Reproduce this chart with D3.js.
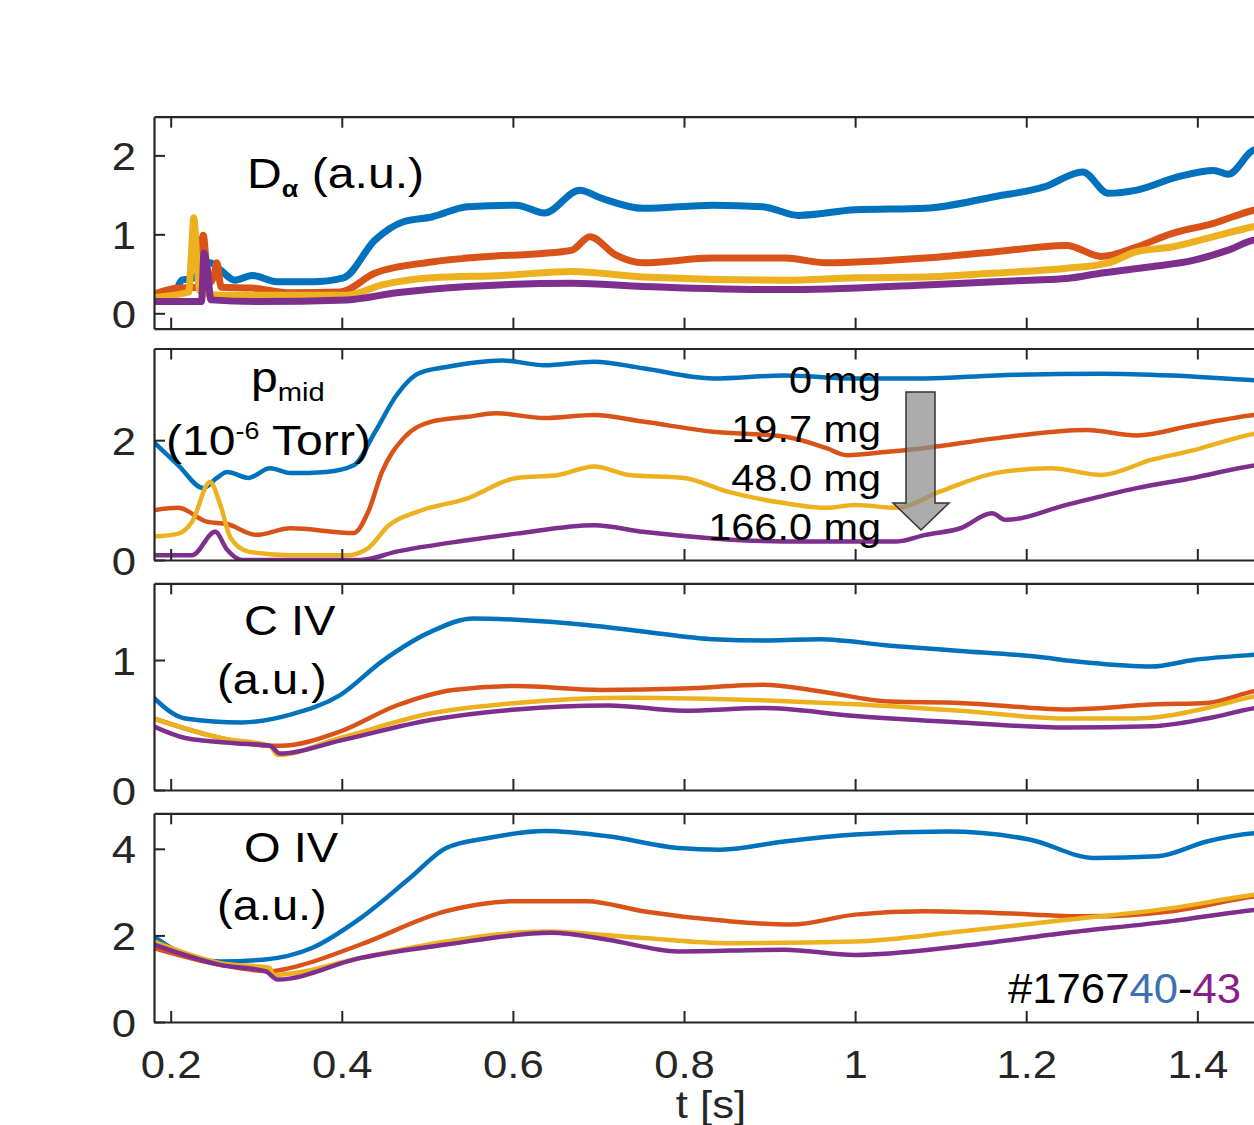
<!DOCTYPE html>
<html><head><meta charset="utf-8">
<script src="https://cdn.jsdelivr.net/npm/d3@7"></script>
<style>
html,body{margin:0;padding:0;background:#fff;}
svg{display:block;font-family:"Liberation Sans",Arial,Helvetica,sans-serif;}
</style></head>
<body>
<script>
// ---------------- DATA ----------------
const seriesNames = ["0 mg", "19.7 mg", "48.0 mg", "166.0 mg"];
const seriesColors = ["#0072BD", "#D95319", "#EDB120", "#7E2F8E"];
const xTicks = [0.2, 0.4, 0.6, 0.8, 1, 1.2, 1.4];
const xTickLabels = ["0.2", "0.4", "0.6", "0.8", "1", "1.2", "1.4"];

// Panel 1: D-alpha (a.u.)  [t (s), value]
const dAlpha0 = [[0.18,0.24],[0.205,0.27],[0.213,0.42],[0.225,0.44],[0.246,0.64],[0.258,0.55],[0.275,0.42],[0.295,0.48],[0.324,0.40],[0.365,0.40],[0.402,0.45],[0.439,0.93],[0.472,1.16],[0.505,1.22],[0.547,1.35],[0.604,1.37],[0.637,1.27],[0.678,1.56],[0.703,1.46],[0.752,1.33],[0.834,1.37],[0.892,1.35],[0.934,1.24],[1.0,1.31],[1.082,1.33],[1.164,1.48],[1.221,1.60],[1.266,1.79],[1.296,1.52],[1.329,1.56],[1.378,1.73],[1.419,1.81],[1.436,1.76],[1.467,2.07],[1.52,2.12]];
const dAlpha19 = [[0.18,0.24],[0.209,0.32],[0.232,0.33],[0.238,0.99],[0.244,0.38],[0.25,0.45],[0.254,0.64],[0.259,0.33],[0.295,0.32],[0.34,0.26],[0.398,0.27],[0.439,0.51],[0.505,0.65],[0.571,0.72],[0.637,0.76],[0.669,0.80],[0.69,0.97],[0.72,0.74],[0.752,0.64],[0.834,0.70],[0.917,0.70],[0.966,0.64],[1.082,0.70],[1.164,0.78],[1.247,0.86],[1.288,0.72],[1.329,0.84],[1.37,1.01],[1.419,1.14],[1.467,1.31],[1.52,1.38]];
const dAlpha48 = [[0.18,0.20],[0.221,0.27],[0.224,0.7],[0.227,1.21],[0.231,0.6],[0.234,0.28],[0.258,0.23],[0.34,0.23],[0.406,0.23],[0.447,0.36],[0.505,0.45],[0.588,0.48],[0.669,0.53],[0.752,0.46],[0.917,0.42],[1.0,0.45],[1.082,0.46],[1.164,0.51],[1.247,0.57],[1.296,0.64],[1.329,0.78],[1.37,0.84],[1.419,0.97],[1.467,1.10],[1.52,1.16]];
const dAlpha166 = [[0.18,0.15],[0.225,0.15],[0.236,0.15],[0.239,0.76],[0.243,0.55],[0.247,0.17],[0.3,0.15],[0.406,0.17],[0.464,0.26],[0.547,0.34],[0.669,0.38],[0.752,0.34],[0.917,0.30],[1.082,0.36],[1.205,0.42],[1.247,0.44],[1.288,0.51],[1.346,0.59],[1.395,0.67],[1.436,0.80],[1.467,0.93],[1.52,0.98]];

// Panel 2: p_mid (1e-6 Torr)
const pMid0 = [[0.18,1.97],[0.209,1.58],[0.238,1.20],[0.254,1.37],[0.266,1.47],[0.291,1.37],[0.316,1.53],[0.34,1.45],[0.382,1.47],[0.414,1.58],[0.439,2.14],[0.464,2.75],[0.489,3.11],[0.522,3.22],[0.588,3.33],[0.637,3.25],[0.695,3.31],[0.752,3.20],[0.834,3.03],[0.917,3.08],[1.0,3.03],[1.082,3.03],[1.164,3.08],[1.288,3.11],[1.37,3.08],[1.467,3.00],[1.52,2.98]];
const pMid19 = [[0.18,0.83],[0.209,0.87],[0.242,0.64],[0.266,0.60],[0.30,0.42],[0.34,0.53],[0.414,0.45],[0.431,0.81],[0.447,1.47],[0.472,2.03],[0.505,2.31],[0.547,2.39],[0.58,2.45],[0.637,2.37],[0.695,2.42],[0.752,2.31],[0.834,2.14],[0.917,2.06],[0.966,1.87],[0.99,1.75],[1.041,1.81],[1.082,1.87],[1.164,2.03],[1.271,2.17],[1.329,2.08],[1.395,2.25],[1.467,2.42],[1.52,2.48]];
const pMid48 = [[0.18,0.39],[0.209,0.44],[0.225,0.64],[0.246,1.30],[0.258,0.92],[0.27,0.37],[0.291,0.14],[0.34,0.08],[0.406,0.08],[0.431,0.20],[0.455,0.58],[0.489,0.81],[0.547,1.03],[0.604,1.37],[0.653,1.42],[0.695,1.56],[0.736,1.42],[0.80,1.37],[0.851,1.14],[0.917,0.95],[0.966,0.87],[1.0,0.92],[1.049,0.87],[1.099,1.14],[1.164,1.45],[1.229,1.53],[1.288,1.42],[1.346,1.67],[1.395,1.83],[1.467,2.11],[1.52,2.2]];
const pMid166 = [[0.18,0.08],[0.225,0.08],[0.252,0.47],[0.266,0.17],[0.283,0.0],[0.422,0.0],[0.464,0.14],[0.547,0.33],[0.604,0.44],[0.695,0.58],[0.752,0.47],[0.834,0.36],[0.917,0.31],[1.0,0.31],[1.049,0.31],[1.082,0.42],[1.123,0.53],[1.16,0.78],[1.176,0.67],[1.247,0.92],[1.329,1.20],[1.395,1.37],[1.467,1.58],[1.52,1.65]];

// Panel 3: C IV (a.u.)
const cIV0 = [[0.18,0.71],[0.217,0.55],[0.283,0.52],[0.34,0.58],[0.398,0.73],[0.447,0.99],[0.505,1.22],[0.554,1.32],[0.604,1.31],[0.686,1.27],[0.752,1.22],[0.834,1.16],[0.90,1.15],[0.958,1.16],[1.041,1.11],[1.123,1.07],[1.205,1.03],[1.271,0.98],[1.346,0.95],[1.395,1.00],[1.467,1.04],[1.52,1.06]];
const cIV19 = [[0.18,0.55],[0.258,0.40],[0.316,0.34],[0.328,0.34],[0.398,0.45],[0.464,0.65],[0.53,0.77],[0.604,0.80],[0.703,0.77],[0.80,0.78],[0.892,0.81],[0.958,0.76],[1.041,0.68],[1.123,0.67],[1.247,0.62],[1.354,0.66],[1.411,0.67],[1.467,0.76],[1.52,0.8]];
const cIV48 = [[0.18,0.55],[0.258,0.40],[0.316,0.34],[0.325,0.27],[0.398,0.40],[0.505,0.59],[0.604,0.67],[0.736,0.71],[0.892,0.69],[1.0,0.66],[1.123,0.61],[1.247,0.55],[1.329,0.55],[1.411,0.63],[1.467,0.72],[1.52,0.76]];
const cIV166 = [[0.18,0.49],[0.217,0.40],[0.275,0.36],[0.316,0.34],[0.328,0.28],[0.398,0.38],[0.505,0.54],[0.604,0.62],[0.712,0.65],[0.80,0.61],[0.892,0.63],[1.0,0.57],[1.123,0.52],[1.247,0.48],[1.346,0.49],[1.411,0.55],[1.467,0.63],[1.52,0.67]];

// Panel 4: O IV (a.u.)
const oIV0 = [[0.18,1.98],[0.217,1.55],[0.258,1.40],[0.308,1.44],[0.365,1.71],[0.422,2.40],[0.48,3.33],[0.522,4.02],[0.571,4.25],[0.637,4.41],[0.711,4.29],[0.793,4.02],[0.843,3.98],[0.917,4.17],[1.0,4.33],[1.107,4.40],[1.205,4.21],[1.279,3.79],[1.354,3.83],[1.411,4.17],[1.467,4.36],[1.52,4.4]];
const oIV19 = [[0.18,1.71],[0.258,1.32],[0.316,1.17],[0.34,1.25],[0.422,1.79],[0.522,2.56],[0.604,2.79],[0.686,2.79],[0.752,2.56],[0.851,2.33],[0.925,2.25],[1.0,2.48],[1.082,2.56],[1.164,2.52],[1.271,2.44],[1.37,2.56],[1.467,2.90],[1.52,3.0]];
const oIV48 = [[0.18,1.86],[0.258,1.36],[0.316,1.25],[0.32,1.09],[0.422,1.48],[0.522,1.86],[0.637,2.09],[0.752,1.94],[0.851,1.82],[1.0,1.86],[1.123,2.09],[1.247,2.36],[1.37,2.63],[1.467,2.94],[1.52,3.05]];
const oIV166 = [[0.18,1.79],[0.258,1.32],[0.311,1.17],[0.325,0.98],[0.422,1.48],[0.522,1.79],[0.645,2.06],[0.711,1.90],[0.793,1.63],[0.917,1.67],[1.0,1.55],[1.123,1.75],[1.247,2.06],[1.37,2.33],[1.467,2.59],[1.52,2.68]];

const yTicks1 = [0, 1, 2];
const yTicks2 = [0, 2];
const yTicks3 = [0, 1];
const yTicks4 = [0, 2, 4];

// ---------------- LAYOUT ----------------
const W = 1254, H = 1125;
const SX = 1.12; // horizontal stretch of all text, as in the reference
const svg = d3.select("body").append("svg").attr("width", W).attr("height", H);
const AX = "#262626";
const fam = '"Liberation Sans", Arial, sans-serif';
const x = d3.scaleLinear().domain([0.1805, 1.52]).range([154, 1300]);

const panels = [
  {series:[dAlpha0,dAlpha19,dAlpha48,dAlpha166], yDom:[-0.195,2.49], top:116.7, bottom:328.7, ticks:yTicks1, lw:7},
  {series:[pMid0,pMid19,pMid48,pMid166], yDom:[0,3.53], top:348.5, bottom:560, ticks:yTicks2, lw:4.5},
  {series:[cIV0,cIV19,cIV48,cIV166], yDom:[0,1.59], top:583.3, bottom:790, ticks:yTicks3, lw:4.5},
  {series:[oIV0,oIV19,oIV48,oIV166], yDom:[0,4.82], top:813.3, bottom:1022, ticks:yTicks4, lw:4.5}
];

panels.forEach((p, i) => {
  const y = d3.scaleLinear().domain(p.yDom).range([p.bottom, p.top]);
  const g = svg.append("g");
  const cid = "clip" + i;
  svg.append("clipPath").attr("id", cid).append("rect")
    .attr("x", x.range()[0]).attr("y", p.top).attr("width", x.range()[1]-x.range()[0]).attr("height", p.bottom-p.top);
  const line = d3.line().x(d => x(d[0])).y(d => y(d[1])).curve(d3.curveMonotoneX);
  const lg = g.append("g").attr("clip-path", `url(#${cid})`);
  p.series.forEach((s, k) => {
    lg.append("path").datum(s).attr("d", line)
      .attr("fill", "none").attr("stroke", seriesColors[k])
      .attr("stroke-width", p.lw).attr("stroke-linejoin", "round").attr("stroke-linecap", "round");
  });
  const xb = d3.axisBottom(x).tickValues(xTicks).tickSizeInner(-11).tickSizeOuter(0).tickFormat(i === 3 ? (d,j) => xTickLabels[j] : "");
  const xa = g.append("g").attr("transform", `translate(0,${p.bottom})`).call(xb);
  const xt = d3.axisTop(x).tickValues(xTicks).tickSizeInner(-11).tickSizeOuter(0).tickFormat("");
  const xta = g.append("g").attr("transform", `translate(0,${p.top})`).call(xt);
  const yl = d3.axisLeft(y).tickValues(p.ticks).tickSizeInner(-11).tickSizeOuter(0).tickPadding(18).tickFormat(d3.format("d"));
  const ya = g.append("g").attr("transform", `translate(${x.range()[0]},0)`).call(yl);
  [xa, xta, ya].forEach(a => {
    a.selectAll("path.domain").attr("stroke", AX).attr("stroke-width", 2.2);
    a.selectAll(".tick line").attr("stroke", AX).attr("stroke-width", 2);
    a.selectAll(".tick text").attr("fill", AX).attr("font-size", 39).attr("font-family", fam);
  });
  ya.selectAll(".tick text").attr("dy", "0.36em").each(function(){
    const t = d3.select(this); const xx = +t.attr("x");
    t.attr("x", 0).attr("transform", `translate(${xx},0) scale(${SX},1)`);
  });
  xa.selectAll(".tick text").attr("dy", "1.35em").attr("transform", `scale(${SX},1)`);
});

// ---------------- ANNOTATIONS ----------------
function stext(xx, yy, size, anchor, sx) {
  return svg.append("text").attr("transform", `translate(${xx},${yy}) scale(${sx || SX},1)`)
    .attr("font-size", size).attr("font-family", fam).attr("fill", "#000").attr("text-anchor", anchor || "start");
}
// D alpha
const t1 = stext(247, 188, 43);
t1.append("tspan").text("D");
t1.append("tspan").attr("font-size", 24).attr("font-weight", "bold").attr("dy", 9).text("α");
t1.append("tspan").attr("dy", -9).text(" (a.u.)");

// p_mid
const t2 = stext(251, 392, 43);
t2.append("tspan").text("p");
t2.append("tspan").attr("font-size", 26).attr("dy", 9).text("mid");
const t3 = stext(166, 455, 43);
t3.append("tspan").text("(10");
t3.append("tspan").attr("font-size", 24).attr("dy", -16).text("-6");
t3.append("tspan").attr("dy", 16).text(" Torr)");

// mass labels
const labelY = [393, 442, 491, 540];
seriesNames.forEach((n, k) => stext(881, labelY[k], 37, "end").text(n));

// arrow
svg.append("path")
  .attr("d", "M906,392 L935,392 L935,503 L949,503 L921,530 L893,503 L906,503 Z")
  .attr("fill", "rgba(140,140,140,0.72)").attr("stroke", "#333").attr("stroke-width", 1.5);

// C IV / O IV
stext(244, 635, 42).text("C IV");
stext(217, 694, 42).text("(a.u.)");
stext(244, 862, 42).text("O IV");
stext(217, 920, 42).text("(a.u.)");

// shot numbers (kept inside the picture)
const t4 = stext(1008, 1003, 42, "start", 1.04);
t4.append("tspan").text("#1767");
t4.append("tspan").attr("fill", "#3d70b2").text("40");
t4.append("tspan").text("-");
t4.append("tspan").attr("fill", "#8b1c8b").text("43");

// x label
stext(711, 1118, 39, "middle").attr("fill", AX).text("t [s]");
</script>
</body></html>
